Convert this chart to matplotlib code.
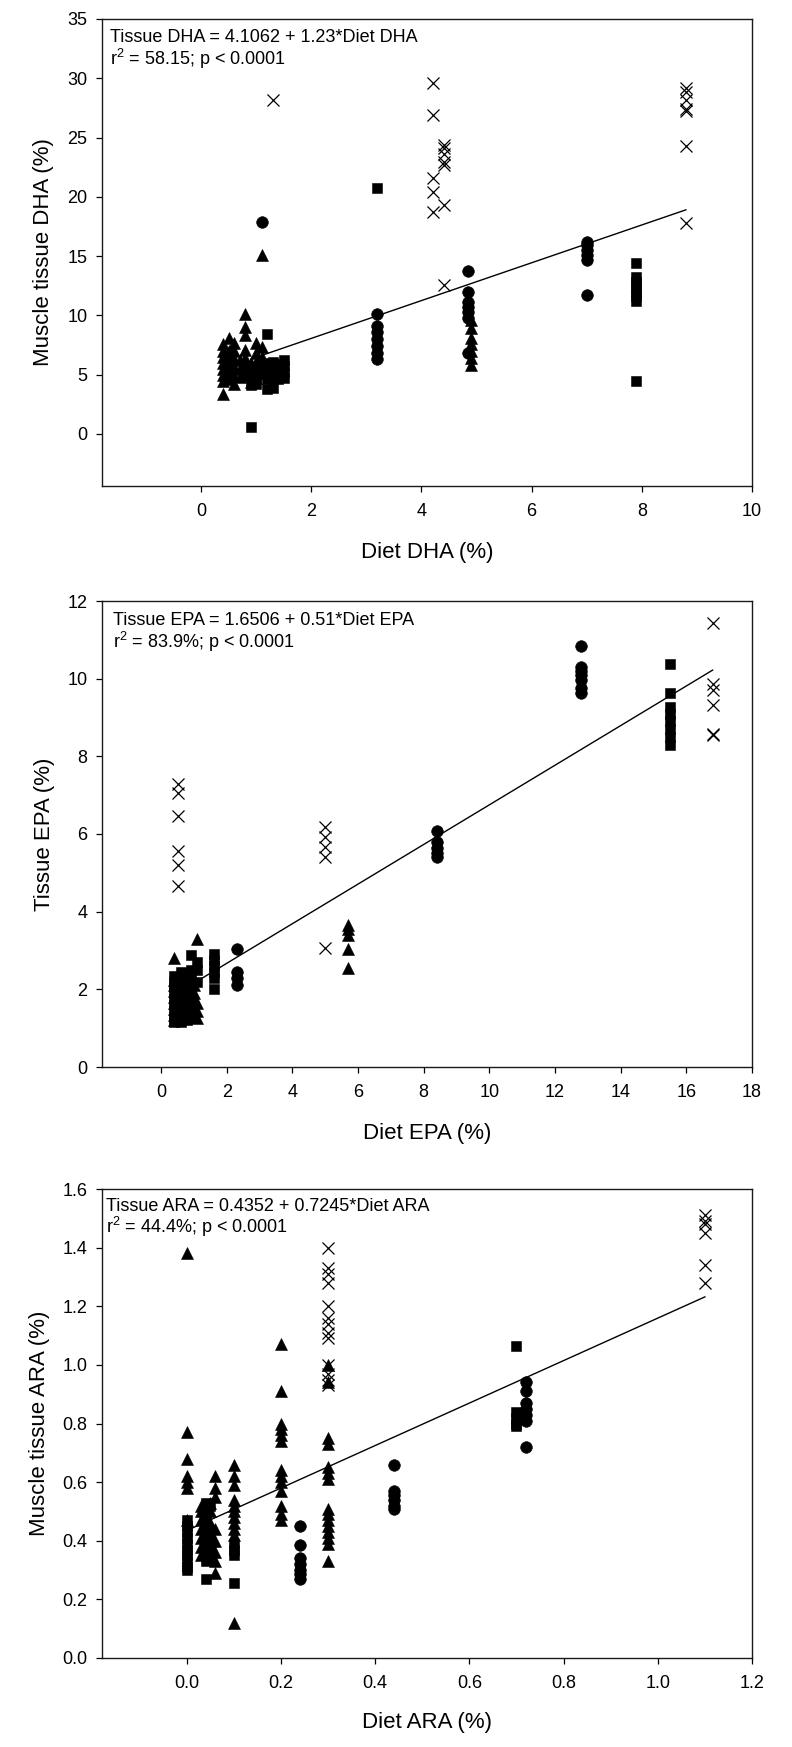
import matplotlib
matplotlib.use('Agg')
import matplotlib.pyplot as plt
from matplotlib.ticker import FormatStrFormatter

plt.rcParams['font.family'] = ['Liberation Sans', 'DejaVu Sans']
plt.rcParams['mathtext.default'] = 'regular'

# ---------------- Panel 1: DHA ----------------
dha_sq = {0.9: [0.6, 4.1, 4.8], 1.0: [4.2, 4.9, 5.6], 1.2: [3.8, 4.6, 5.3, 6.0, 8.4],
          1.3: [3.9, 4.7, 5.4, 6.1], 1.4: [4.6, 5.3, 5.9], 1.5: [4.7, 5.2, 5.7, 6.2],
          3.2: [20.7], 7.9: [4.5, 11.2, 11.6, 12.0, 12.4, 12.8, 13.2, 14.4]}
dha_tri = {0.4: [3.4, 4.5, 5.0, 5.5, 6.0, 6.5, 7.0, 7.6], 0.5: [4.6, 5.2, 5.8, 6.4, 7.0, 8.1],
           0.6: [4.2, 4.9, 5.6, 6.3, 7.0, 7.7], 0.7: [4.8, 5.5, 6.2],
           0.8: [5.0, 5.7, 6.4, 7.1, 8.3, 9.0, 10.1], 0.9: [4.4, 5.2, 6.0],
           1.0: [4.7, 5.4, 6.1, 6.8, 7.7], 1.1: [5.1, 5.8, 6.5, 7.3, 15.1],
           4.9: [5.8, 6.4, 7.0, 7.6, 8.1, 8.9, 9.6]}
dha_circ = {1.1: [17.9], 3.2: [6.3, 6.8, 7.4, 8.0, 8.6, 9.1, 10.1],
            4.85: [6.8, 9.8, 10.3, 10.7, 11.1, 12.0, 13.7],
            7.0: [11.7, 14.7, 15.1, 15.5, 15.9, 16.2]}
dha_cross = {1.3: [28.2], 4.2: [29.6, 26.9, 21.6, 20.4, 18.7],
             4.4: [24.4, 24.1, 23.6, 22.9, 22.7, 19.3, 12.6],
             8.8: [29.2, 28.8, 28.2, 27.4, 27.2, 24.3, 17.8]}
dha_line_x = [0.9, 8.8]
dha_line_y = [6.3, 18.9]

# ---------------- Panel 2: EPA ----------------
epa_sq = {0.4: [1.15, 1.3, 1.45, 1.6, 1.75, 1.9, 2.05, 2.2, 2.35],
          0.6: [1.15, 1.3, 1.5, 1.7, 1.9, 2.1, 2.3, 2.45],
          0.8: [1.2, 1.4, 1.6, 1.8, 2.0, 2.2, 2.4],
          0.9: [2.3, 2.5, 2.88], 1.1: [2.2, 2.5, 2.7],
          1.6: [2.0, 2.3, 2.45, 2.6, 2.75, 2.9],
          15.5: [8.3, 8.5, 8.7, 8.9, 9.1, 9.28, 9.62, 10.38]}
epa_tri = {0.4: [1.2, 1.35, 1.5, 1.65, 1.8, 1.95, 2.1, 2.25, 2.8],
           0.5: [1.2, 1.4, 1.6, 1.8, 2.0, 2.2, 2.4],
           0.7: [1.3, 1.5, 1.7, 1.9, 2.1, 2.3],
           1.0: [1.3, 1.5, 1.7, 1.9, 2.1],
           1.1: [1.25, 1.45, 1.65, 3.3],
           5.7: [2.55, 3.05, 3.4, 3.55, 3.65]}
epa_circ = {2.3: [2.12, 2.3, 2.45, 3.04], 8.4: [5.4, 5.5, 5.65, 5.8, 6.08],
            12.8: [9.62, 9.75, 9.97, 10.1, 10.2, 10.3, 10.84]}
epa_cross = {0.5: [4.66, 5.2, 5.57, 6.46, 7.05, 7.29], 5.0: [3.06, 5.42, 5.67, 5.93, 6.19],
             16.8: [8.56, 8.58, 9.31, 9.71, 9.86, 11.44]}
epa_line_x = [1.0, 16.8]
epa_line_y = [2.16, 10.22]

# ---------------- Panel 3: ARA ----------------
ara_sq = {0.0: [0.47, 0.45, 0.43, 0.41, 0.39, 0.37, 0.35, 0.33, 0.31, 0.30],
          0.04: [0.53, 0.50, 0.48, 0.45, 0.42, 0.38, 0.35, 0.33, 0.27],
          0.05: [0.52, 0.40, 0.36], 0.1: [0.39, 0.37, 0.35, 0.255],
          0.7: [1.063, 0.84, 0.82, 0.80, 0.79]}
ara_tri = {0.0: [1.38, 0.77, 0.68, 0.62, 0.60, 0.58, 0.47],
           0.03: [0.52, 0.50, 0.47, 0.44, 0.41, 0.38, 0.35],
           0.05: [0.53, 0.50, 0.46, 0.43, 0.40, 0.37, 0.34],
           0.06: [0.62, 0.58, 0.55, 0.44, 0.40, 0.36, 0.33, 0.29],
           0.1: [0.66, 0.62, 0.59, 0.54, 0.52, 0.50, 0.48, 0.46, 0.44, 0.42, 0.12],
           0.2: [1.07, 0.91, 0.80, 0.78, 0.76, 0.74, 0.64, 0.62, 0.60, 0.57, 0.52, 0.49, 0.47],
           0.3: [1.0, 0.94, 0.75, 0.73, 0.65, 0.63, 0.61, 0.51, 0.49, 0.47, 0.45, 0.43,
                 0.41, 0.39, 0.33]}
ara_circ = {0.24: [0.45, 0.385, 0.34, 0.32, 0.30, 0.285, 0.27],
            0.44: [0.66, 0.57, 0.555, 0.54, 0.52, 0.51],
            0.72: [0.94, 0.91, 0.87, 0.85, 0.83, 0.81, 0.72]}
ara_cross = {0.3: [1.40, 1.33, 1.31, 1.28, 1.20, 1.16, 1.14, 1.11, 1.09, 1.00, 0.97, 0.95, 0.93],
             1.1: [1.51, 1.49, 1.48, 1.45, 1.34, 1.28]}
ara_line_x = [0.0, 1.1]
ara_line_y = [0.435, 1.232]

panels = [
    dict(sq=dha_sq, tri=dha_tri, circ=dha_circ, cross=dha_cross, lx=dha_line_x, ly=dha_line_y,
         xlim=(-1.8, 10), ylim=(-4.4, 35), xticks=[0, 2, 4, 6, 8, 10],
         yticks=[0, 5, 10, 15, 20, 25, 30, 35], fmt=None,
         xlabel='Diet DHA (%)', ylabel='Muscle tissue DHA (%)',
         eq1='Tissue DHA = 4.1062 + 1.23*Diet DHA', eq2='r$^{2}$ = 58.15; p < 0.0001',
         box=(102, 19, 752, 486), ylab_c=41, xlab_c=66, tx=8, b1=23, b2=46),
    dict(sq=epa_sq, tri=epa_tri, circ=epa_circ, cross=epa_cross, lx=epa_line_x, ly=epa_line_y,
         xlim=(-1.8, 18), ylim=(0, 12), xticks=list(range(0, 19, 2)),
         yticks=[0, 2, 4, 6, 8, 10, 12], fmt=None,
         xlabel='Diet EPA (%)', ylabel='Tissue EPA (%)',
         eq1='Tissue EPA = 1.6506 + 0.51*Diet EPA', eq2='r$^{2}$ = 83.9%; p < 0.0001',
         box=(102, 601, 752, 1067), ylab_c=42, xlab_c=66, tx=11, b1=24, b2=47),
    dict(sq=ara_sq, tri=ara_tri, circ=ara_circ, cross=ara_cross, lx=ara_line_x, ly=ara_line_y,
         xlim=(-0.18, 1.2), ylim=(0, 1.6), xticks=[0, 0.2, 0.4, 0.6, 0.8, 1.0, 1.2],
         yticks=[0, 0.2, 0.4, 0.6, 0.8, 1.0, 1.2, 1.4, 1.6], fmt='%.1f',
         xlabel='Diet ARA (%)', ylabel='Muscle tissue ARA (%)',
         eq1='Tissue ARA = 0.4352 + 0.7245*Diet ARA', eq2='r$^{2}$ = 44.4%; p < 0.0001',
         box=(102, 1189, 752, 1658), ylab_c=37, xlab_c=64, tx=4, b1=22, b2=44),
]

W, H = 792, 1747
fig = plt.figure(figsize=(W / 100, H / 100), dpi=100)
PX2PT = 0.72


def expand(cols):
    xs, ys = [], []
    for x, vals in cols.items():
        xs += [x] * len(vals)
        ys += list(vals)
    return xs, ys


for p in panels:
    l, t, r, b = p['box']
    ax = fig.add_axes([l / W, 1 - b / H, (r - l) / W, (b - t) / H])
    hpx = b - t
    wpx = r - l

    xs, ys = expand(p['sq'])
    ax.plot(xs, ys, linestyle='none', marker='s', ms=7.6, mfc='black', mec='black', mew=0.4)
    xs, ys = expand(p['tri'])
    ax.plot(xs, ys, linestyle='none', marker='^', ms=8.8, mfc='black', mec='black', mew=0.4)
    xs, ys = expand(p['circ'])
    ax.plot(xs, ys, linestyle='none', marker='o', ms=8.4, mfc='black', mec='black', mew=0.4)
    xs, ys = expand(p['cross'])
    ax.plot(xs, ys, linestyle='none', marker='x', ms=8.2, mec='black', mew=0.9)
    ax.plot(p['lx'], p['ly'], color='black', lw=1.0)

    ax.set_xlim(p['xlim'])
    ax.set_ylim(p['ylim'])
    ax.set_xticks(p['xticks'])
    ax.set_yticks(p['yticks'])
    if p['fmt']:
        ax.xaxis.set_major_formatter(FormatStrFormatter(p['fmt']))
        ax.yaxis.set_major_formatter(FormatStrFormatter(p['fmt']))
    ax.tick_params(direction='out', length=4.5, width=0.9, labelsize=13,
                   top=False, right=False, colors='black')
    ax.tick_params(axis='x', pad=7.5)
    ax.tick_params(axis='y', pad=6)
    for s in ax.spines.values():
        s.set_linewidth(1.0)
        s.set_color('#1a1a1a')

    ax.set_xlabel(p['xlabel'], fontsize=16)
    ax.set_ylabel(p['ylabel'], fontsize=16)
    ax.xaxis.set_label_coords(0.5, -(p['xlab_c'] - 10) / hpx)
    ax.yaxis.set_label_coords((p['ylab_c'] + 12.7 - l) / wpx, 0.5)

    ax.annotate(p['eq1'], xy=(0, 1), xycoords='axes fraction',
                xytext=(p['tx'] * PX2PT, -p['b1'] * PX2PT), textcoords='offset points',
                ha='left', va='baseline', fontsize=13)
    ax.annotate(p['eq2'], xy=(0, 1), xycoords='axes fraction',
                xytext=(p['tx'] * PX2PT, -p['b2'] * PX2PT), textcoords='offset points',
                ha='left', va='baseline', fontsize=13)

fig.savefig('out.png', dpi=100, facecolor='white')
